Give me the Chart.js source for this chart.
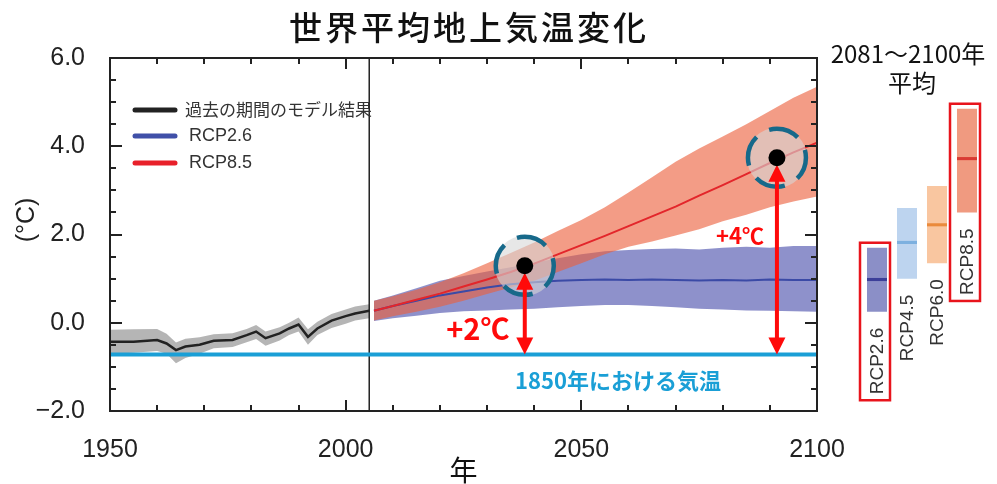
<!DOCTYPE html>
<html><head><meta charset="utf-8">
<script src="https://cdn.jsdelivr.net/npm/chart.js@4"></script>
<style>
html,body{margin:0;padding:0;background:#fff;}
#wrap{position:relative;width:997px;height:484px;overflow:hidden;background:#fff;}
#main{position:absolute;left:0;top:0;}
#side{position:absolute;left:820px;top:0;}
</style></head><body>
<div id="wrap"><canvas id="main" width="997" height="484"></canvas><canvas id="side" width="177" height="484"></canvas></div>
<script>
// ---------- data ----------
const chartTitle = '世界平均地上気温変化';
const xAxisTitle = '年';
const yAxisTitle = '(°C)';
const xTicks = [1950, 2000, 2050, 2100];
const yTicks = [-2, 0, 2, 4, 6];

const histYears = [1950,1955,1960,1962,1964,1966,1969,1972,1976,1979,1981,1983,1986,1988,1990,1992,1994,1997,2000,2002,2005];
const histMean  = [-0.43,-0.43,-0.39,-0.47,-0.62,-0.54,-0.50,-0.41,-0.39,-0.28,-0.20,-0.35,-0.24,-0.13,-0.04,-0.32,-0.13,0.05,0.15,0.21,0.27];
const histUpper = [-0.16,-0.15,-0.14,-0.25,-0.45,-0.36,-0.33,-0.26,-0.24,-0.14,-0.05,-0.20,-0.10,0.00,0.12,-0.15,0.02,0.20,0.30,0.37,0.42];
const histLower = [-0.70,-0.68,-0.64,-0.70,-0.92,-0.80,-0.70,-0.58,-0.55,-0.44,-0.37,-0.52,-0.40,-0.28,-0.20,-0.50,-0.28,-0.12,-0.02,0.05,0.10];

const rcpYears   = [2006,2010,2015,2020,2025,2030,2035,2040,2045,2050,2055,2060,2065,2070,2075,2080,2085,2090,2095,2100];
const rcp26Mean  = [0.27,0.38,0.50,0.62,0.71,0.80,0.87,0.92,0.95,0.97,0.98,0.97,0.98,0.97,0.96,0.97,0.96,0.98,0.97,0.97];
const rcp26Upper = [0.50,0.62,0.78,0.95,1.06,1.16,1.26,1.36,1.46,1.55,1.62,1.65,1.67,1.68,1.66,1.70,1.72,1.70,1.74,1.74];
const rcp26Lower = [0.04,0.10,0.16,0.22,0.26,0.28,0.30,0.32,0.35,0.38,0.40,0.40,0.38,0.35,0.32,0.30,0.28,0.27,0.26,0.25];
const rcp85Mean  = [0.27,0.38,0.52,0.66,0.82,0.98,1.15,1.34,1.55,1.76,1.97,2.19,2.41,2.63,2.88,3.12,3.37,3.62,3.86,4.08];
const rcp85Upper = [0.50,0.60,0.75,0.92,1.12,1.35,1.58,1.82,2.08,2.33,2.62,2.95,3.30,3.65,3.95,4.22,4.50,4.80,5.10,5.35];
const rcp85Lower = [0.05,0.15,0.25,0.36,0.50,0.65,0.80,0.95,1.15,1.35,1.55,1.72,1.84,1.98,2.12,2.30,2.45,2.62,2.75,2.86];

const splitYear = 2005;
const baselineYears = [1950, 2100];
const baselineValue = -0.72;
const baselineLabel = '1850年における気温';
const markYears  = [2038, 2091.5];
const markValues = [1.29, 3.74];
const markLabels = ['+2℃', '+4℃'];
const legendLabels = ['過去の期間のモデル結果', 'RCP2.6', 'RCP8.5'];

const sideTitle = ['2081～2100年', '平均'];
const sideCategories = ['RCP2.6', 'RCP4.5', 'RCP6.0', 'RCP8.5'];
const sideLow  = [0.25, 1.00, 1.35, 2.50];
const sideHigh = [1.70, 2.60, 3.10, 4.85];
const sideMean = [0.98, 1.82, 2.22, 3.72];
const boxedCategories = ['RCP2.6', 'RCP8.5'];

// ---------- styles ----------
const FONT_LAT = '"Liberation Sans", Arial, sans-serif';
const FONT_JP = '"Noto Sans CJK JP", "Noto Sans", sans-serif';
const C = {
  axis: '#222', tickText: '#222',
  hist: '#222222', histBand: 'rgba(120,120,120,0.55)',
  r26: '#3b4aa6', r26Band: 'rgba(60,65,165,0.58)',
  r85: '#e3262b', r85Band: 'rgba(236,95,60,0.62)',
  base: '#1a9fd6', arrow: '#ff0a0a', ring: '#17698a'
};
const sideFill = ['#8b8fc7', '#bdd4ef', '#f9c6a0', '#f09a80'];
const sideLine = ['#3c3f99', '#7db0df', '#ea8a3c', '#d93a33'];

const pts = (xs, ys) => xs.map((x, i) => ({x: x, y: ys[i]}));
Chart.defaults.animation = false;

// ---------- main chart plugin ----------
const mainDecor = {
  id: 'mainDecor',
  afterDatasetsDraw(chart) {
    const {ctx, chartArea: a, scales: {x, y}} = chart;
    const by = y.getPixelForValue(baselineValue);
    // dashed rings
    markYears.forEach((yr, i) => {
      const px = x.getPixelForValue(yr), py = y.getPixelForValue(markValues[i]);
      ctx.save();
      ctx.strokeStyle = C.ring; ctx.lineWidth = 4.5;
      ctx.setLineDash([31, 14.5]); ctx.lineDashOffset = 8;
      ctx.beginPath(); ctx.arc(px, py, 29, 0, Math.PI * 2); ctx.stroke();
      ctx.restore();
    });
    // arrows
    markYears.forEach((yr, i) => {
      const px = x.getPixelForValue(yr), py = y.getPixelForValue(markValues[i]);
      const top = py + 7, bot = by, hl = 17, hw = 8.5;
      ctx.save();
      ctx.strokeStyle = C.arrow; ctx.fillStyle = C.arrow; ctx.lineWidth = 4;
      ctx.beginPath(); ctx.moveTo(px, top + hl - 2); ctx.lineTo(px, bot - hl + 2); ctx.stroke();
      ctx.beginPath(); ctx.moveTo(px, top); ctx.lineTo(px - hw, top + hl); ctx.lineTo(px + hw, top + hl); ctx.closePath(); ctx.fill();
      ctx.beginPath(); ctx.moveTo(px, bot); ctx.lineTo(px - hw, bot - hl); ctx.lineTo(px + hw, bot - hl); ctx.closePath(); ctx.fill();
      ctx.restore();
    });
    // dots above arrows
    markYears.forEach((yr, i) => {
      const px = x.getPixelForValue(yr), py = y.getPixelForValue(markValues[i]);
      ctx.save(); ctx.fillStyle = '#000';
      ctx.beginPath(); ctx.arc(px, py, 8.5, 0, Math.PI * 2); ctx.fill();
      ctx.restore();
    });
    // annotation texts
    ctx.save();
    ctx.textAlign = 'center'; ctx.textBaseline = 'middle';
    ctx.fillStyle = C.arrow;
    const p1 = x.getPixelForValue(markYears[0]);
    const p2 = x.getPixelForValue(markYears[1]);
    ctx.font = 'bold 29px ' + FONT_JP;
    ctx.fillText(markLabels[0], p1 - 47, by - 26);
    ctx.font = 'bold 22px ' + FONT_JP;
    ctx.fillText(markLabels[1], p2 - 37, y.getPixelForValue(markValues[1]) + 78);
    ctx.fillStyle = C.base;
    ctx.font = 'bold 22px ' + FONT_JP;
    ctx.fillText(baselineLabel, 618, by + 26);
    ctx.restore();
  },
  afterDraw(chart) {
    const {ctx, chartArea: a, scales: {x, y}} = chart;
    ctx.save();
    // inward ticks
    ctx.strokeStyle = C.axis;
    ctx.lineWidth = 2;
    for (let k = 0; k <= 16; k++) {
      const v = -2 + k * 0.5;
      const py = Math.round(y.getPixelForValue(v));
      const L = (k % 4 === 0) ? 12 : 6;
      ctx.beginPath();
      ctx.moveTo(a.left, py); ctx.lineTo(a.left + L, py);
      ctx.moveTo(a.right, py); ctx.lineTo(a.right - L, py);
      ctx.stroke();
    }
    for (let v = 1950; v <= 2100; v += 10) {
      const px = Math.round(x.getPixelForValue(v));
      const L = (v % 50 === 0) ? 11 : 6;
      ctx.beginPath();
      ctx.moveTo(px, a.bottom); ctx.lineTo(px, a.bottom - L);
      ctx.moveTo(px, a.top); ctx.lineTo(px, a.top + L);
      ctx.stroke();
    }
    // frame
    ctx.lineWidth = 2;
    ctx.strokeRect(a.left, a.top, a.right - a.left, a.bottom - a.top);
    // legend
    const lx = a.left + 25, ly = [a.top + 52, a.top + 78, a.top + 105];
    const lc = [C.hist, '#4050a8', '#e8202a'];
    ctx.lineCap = 'round'; ctx.lineWidth = 5;
    lc.forEach((c, i) => {
      ctx.strokeStyle = c;
      ctx.beginPath(); ctx.moveTo(lx, ly[i]); ctx.lineTo(lx + 40, ly[i]); ctx.stroke();
    });
    ctx.fillStyle = '#333'; ctx.textBaseline = 'middle'; ctx.textAlign = 'left';
    ctx.font = '17px ' + FONT_JP;
    ctx.fillText(legendLabels[0], lx + 50, ly[0]);
    ctx.font = '18px ' + FONT_LAT;
    ctx.fillText(legendLabels[1], lx + 54, ly[1]);
    ctx.fillText(legendLabels[2], lx + 54, ly[2]);
    // title
    ctx.fillStyle = '#111'; ctx.font = '500 33px ' + FONT_JP; ctx.textBaseline = 'middle';
    let tx = 289;
    for (const ch of chartTitle) { ctx.fillText(ch, tx, 27); tx += ctx.measureText(ch).width + 3; }
    // axis titles
    ctx.textAlign = 'center';
    ctx.font = '28px ' + FONT_JP;
    ctx.fillText(xAxisTitle, (a.left + a.right) / 2, 470);
    ctx.save();
    ctx.translate(27, 220); ctx.rotate(-Math.PI / 2);
    ctx.font = '25px ' + FONT_LAT; ctx.fillStyle = '#222';
    ctx.fillText(yAxisTitle, 0, 0);
    ctx.restore();
    ctx.restore();
  }
};

new Chart(document.getElementById('main'), {
  type: 'line',
  data: {
    datasets: [
      {data: pts(baselineYears, [baselineValue, baselineValue]), borderColor: C.base, borderWidth: 4, order: 1},
      {data: pts(histYears, histLower), borderWidth: 0, borderColor: 'transparent', order: 10},
      {data: pts(histYears, histUpper), borderWidth: 0, borderColor: 'transparent', fill: '-1', backgroundColor: C.histBand, order: 10},
      {data: pts(rcpYears, rcp26Lower), borderWidth: 0, borderColor: 'transparent', order: 9},
      {data: pts(rcpYears, rcp26Upper), borderWidth: 0, borderColor: 'transparent', fill: '-1', backgroundColor: C.r26Band, order: 9},
      {data: pts(rcpYears, rcp85Lower), borderWidth: 0, borderColor: 'transparent', order: 8},
      {data: pts(rcpYears, rcp85Upper), borderWidth: 0, borderColor: 'transparent', fill: '-1', backgroundColor: C.r85Band, order: 8},
      {data: pts(histYears, histMean), borderColor: C.hist, borderWidth: 2.5, order: 5},
      {data: pts(rcpYears, rcp26Mean), borderColor: C.r26, borderWidth: 2, order: 5},
      {data: pts(rcpYears, rcp85Mean), borderColor: C.r85, borderWidth: 2, order: 4},
      {data: [{x: splitYear, y: -2}, {x: splitYear, y: 6}], borderColor: '#222', borderWidth: 1.5, order: 6},
      {data: pts(markYears, markValues), showLine: false, pointRadius: 30, pointBackgroundColor: 'rgba(215,215,215,0.6)', pointBorderWidth: 0, order: 2}
    ]
  },
  options: {
    responsive: false, animation: false, devicePixelRatio: 1,
    layout: {padding: {top: 58, right: 180, left: 0, bottom: 0}},
    plugins: {legend: {display: false}, tooltip: {enabled: false}, title: {display: false}},
    elements: {point: {radius: 0, hoverRadius: 0}, line: {tension: 0}},
    scales: {
      x: {type: 'linear', min: 1950, max: 2100,
          grid: {display: false}, border: {display: false},
          afterFit(s) { s.height = 73; },
          afterBuildTicks(s) { s.ticks = xTicks.map(v => ({value: v})); },
          ticks: {font: {family: FONT_LAT, size: 25}, color: C.tickText, padding: 16, maxRotation: 0, autoSkip: false, callback: v => String(v)}},
      y: {type: 'linear', min: -2, max: 6,
          grid: {display: false}, border: {display: false},
          afterFit(s) { s.width = 110; },
          afterBuildTicks(s) { s.ticks = yTicks.map(v => ({value: v})); },
          ticks: {font: {family: FONT_LAT, size: 25}, color: C.tickText, padding: 17, callback: v => (v < 0 ? '\u2212' : '') + Math.abs(v).toFixed(1)}}
    }
  },
  plugins: [mainDecor]
});

// ---------- side chart ----------
const sideDecor = {
  id: 'sideDecor',
  afterDraw(chart) {
    const {ctx, scales: {x, y}} = chart;
    ctx.save();
    ctx.fillStyle = '#111'; ctx.textAlign = 'center'; ctx.textBaseline = 'middle';
    ctx.font = '24px ' + FONT_JP;
    ctx.fillText(sideTitle[0], 88, 54);
    ctx.fillText(sideTitle[1], 92, 83);
    ctx.font = '19px ' + FONT_LAT; ctx.fillStyle = '#333';
    sideCategories.forEach((c, i) => {
      const cx = x.getPixelForValue(i);
      const yb = y.getPixelForValue(sideLow[i]) + 16;
      ctx.save(); ctx.translate(cx, yb); ctx.rotate(-Math.PI / 2);
      ctx.textAlign = 'right'; ctx.textBaseline = 'middle';
      ctx.fillText(c, 0, 1);
      ctx.restore();
      if (boxedCategories.includes(c)) {
        const w = ctx.measureText(c).width;
        const top = y.getPixelForValue(sideHigh[i]) - 5;
        const bot = yb + w + 6;
        ctx.save(); ctx.strokeStyle = '#e8141c'; ctx.lineWidth = 2.5;
        ctx.strokeRect(cx - 17, top, 30, bot - top);
        ctx.restore();
      }
    });
    ctx.restore();
  }
};

new Chart(document.getElementById('side'), {
  type: 'bar',
  data: {
    labels: sideCategories,
    datasets: [
      {data: sideCategories.map((c, i) => [sideMean[i] - 0.035, sideMean[i] + 0.035]), backgroundColor: sideLine, grouped: false, barPercentage: 0.667, categoryPercentage: 1, order: 1},
      {data: sideCategories.map((c, i) => [sideLow[i], sideHigh[i]]), backgroundColor: sideFill, grouped: false, barPercentage: 0.667, categoryPercentage: 1, order: 2}
    ]
  },
  options: {
    responsive: false, animation: false, devicePixelRatio: 1,
    layout: {padding: {top: 58, bottom: 73, left: 42, right: 15}},
    plugins: {legend: {display: false}, tooltip: {enabled: false}},
    scales: {
      x: {type: 'category', display: false},
      y: {type: 'linear', min: -2, max: 6, display: false}
    }
  },
  plugins: [sideDecor]
});
</script>
</body></html>
